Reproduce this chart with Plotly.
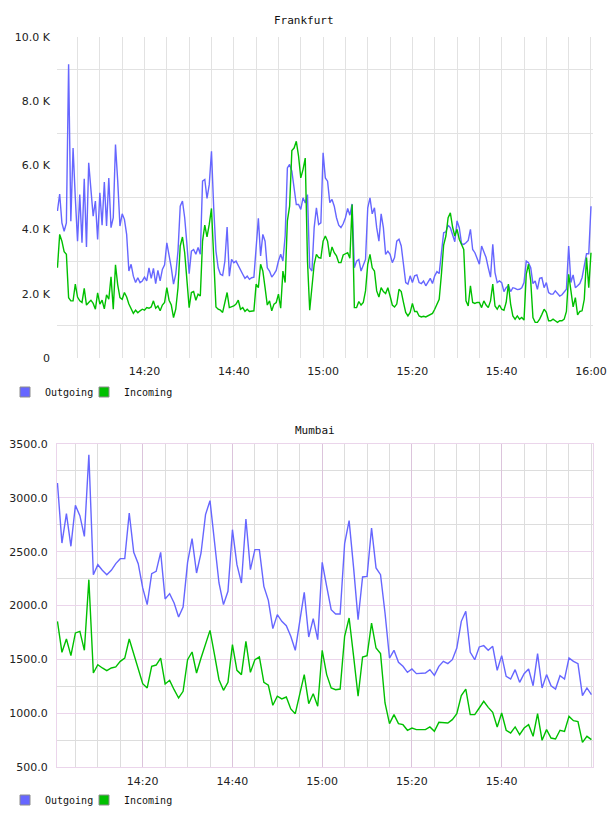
import pandas as pd
import plotly.graph_objects as go

# ---------------- data ----------------
# Frankfurt: samples every 30 s starting 14:00:30
fra_start = "2013-05-14 14:00:30"
fra_outgoing = [
    4580, 5110, 4210, 3950, 4210, 9150, 4260, 6540, 4990, 3640,
    5090, 3590, 5580, 3460, 6080, 5200, 4420, 4890, 3690, 5150,
    4140, 5480, 4110, 5610, 4060, 4370, 6650, 5510, 4110, 4490,
    4320, 3850, 2710, 2920, 2550, 2350, 2500, 2350, 2400, 2520,
    2400, 2810, 2480, 2790, 2320, 2730, 2400, 2760, 2900, 3590,
    3250, 2810, 2300, 2610, 3330, 4730, 4890, 4370, 3540, 2630,
    3330, 3380, 3230, 3440, 3230, 5510, 5560, 4970, 5400, 6440,
    4680, 3330, 2810, 2610, 2570, 3020, 4080, 2550, 3070, 2970,
    3020, 2870, 2710, 2610, 2480, 2550, 2450, 2500, 2520, 3330,
    4350, 3180, 3850, 3640, 2810, 2710, 2520, 2610, 2730, 3020,
    3230, 3020, 3800, 5920, 6030, 5820, 5300, 4780, 4780, 4630,
    4990, 4830, 5090, 2810, 2710, 4060, 4680, 4160, 4210, 6390,
    5610, 5510, 4840, 4940, 4730, 4370, 4140, 4060, 4180, 4370,
    4660, 4450, 4800, 2810, 3020, 3070, 2710, 2920, 3070, 4680,
    4990, 4490, 4680, 4060, 3640, 4490, 4060, 3230, 3330, 3230,
    2970, 3130, 3640, 3700, 3490, 2920, 2350, 2300, 2560, 2350,
    2560, 2590, 2350, 2320, 2400, 2250, 2380, 2480, 2320, 2560,
    2690, 2630, 3280, 3900, 3930, 4140, 4060, 3800, 3620, 4270,
    4060, 3560, 3540, 3590, 3660, 4010, 3380, 3280, 3110, 2920,
    3490, 3330, 3130, 2810, 2520, 3540, 2660, 2350, 2400, 2350,
    2070, 2190, 2250, 2070, 2190, 2170, 2130, 2140, 2190, 2350,
    3020, 2970, 2810, 2320, 2400, 2140, 2480, 2500, 2190, 2350,
    2040, 1990, 1990, 2090, 2010, 1930, 1970, 2040, 2140, 3490,
    2350, 2590, 2190, 2250, 2320, 2500, 2940, 3250, 3250, 4730,
]
fra_incoming = [
    2810, 3850, 3640, 3310, 3230, 1880, 1780, 1780, 2300, 1900,
    1780, 1730, 2170, 1650, 1730, 1800, 1700, 1520, 2030, 1680,
    1800, 1530, 1970, 1830, 2530, 1520, 2900, 2280, 1880, 1830,
    2040, 1900, 1680, 1550, 1390, 1490, 1410, 1470, 1520, 1490,
    1570, 1550, 1590, 1780, 1550, 1620, 1470, 1650, 1730, 2190,
    1800, 1650, 1260, 1520, 2190, 3490, 3770, 3280, 2300, 1570,
    2040, 2070, 1800, 1990, 1930, 3640, 4140, 3770, 4160, 4660,
    3130, 1590, 1520, 1490, 1420, 1780, 2040, 1570, 1590, 1620,
    1680, 1800, 1520, 1570, 1450, 1520, 1450, 1470, 1470, 2300,
    2190, 2920, 2710, 2190, 1650, 1780, 1470, 1680, 1730, 1990,
    1550, 2710, 2350, 4270, 4730, 6460, 6540, 6750, 6290, 5610,
    5870, 6230, 3020, 1490, 2190, 2920, 3230, 3130, 3110, 3640,
    3800, 3640, 3150, 3460, 3280, 3180, 2970, 2970, 3210, 3250,
    3280, 3110, 4780, 1570, 1570, 1760, 1650, 1730, 2090, 2920,
    3230, 2810, 2710, 2090, 1900, 2190, 2070, 2010, 2190, 1930,
    1650, 1590, 1680, 2140, 2070, 1730, 1420, 1310, 1420, 1700,
    1450, 1450, 1310, 1280, 1300, 1280, 1310, 1340, 1390, 1520,
    1700, 1830, 2610, 3520, 3800, 4370, 4520, 4080, 3800, 4010,
    3700, 3560, 3380, 1780, 1620, 2250, 1730, 1700, 1730, 1730,
    1570, 1780, 1650, 1570, 1780, 2300, 1620, 1520, 1650, 1520,
    1490, 1730, 2300, 1680, 1310, 1210, 1310, 1210, 1260, 1180,
    2610, 2920, 2400, 1260, 1110, 1110, 1210, 1360, 1520, 1420,
    1160, 1160, 1210, 1160, 1110, 1160, 1160, 1210, 1450, 2610,
    2140, 1590, 1880, 1340, 1450, 1470, 1830, 3130, 2190, 3280,
]

# Mumbai: samples every minute starting 14:01
mum_start = "2013-05-14 14:01:00"
mum_outgoing = [
    3138, 2580, 2853, 2550, 2930, 2834, 2642, 3400, 2286, 2379,
    2327, 2286, 2327, 2389, 2435, 2435, 2859, 2494, 2389, 2163,
    2008, 2296, 2317, 2494, 2060, 2110, 2023, 1893, 1986, 2401,
    2621, 2302, 2488, 2844, 2974, 2596, 2209, 2008, 2132, 2704,
    2379, 2209, 2803, 2333, 2519, 2519, 2178, 2048, 1785, 1915,
    1853, 1813, 1714, 1584, 1853, 2122, 1707, 1878, 1683, 2401,
    2178, 1961, 1921, 1921, 2574, 2788, 2349, 1868, 2265, 2271,
    2720, 2349, 2286, 1930, 1512, 1584, 1472, 1435, 1379, 1410,
    1367, 1373, 1373, 1404, 1351, 1435, 1481, 1460, 1497, 1605,
    1853, 1946, 1565, 1497, 1615, 1627, 1584, 1621, 1398, 1534,
    1342, 1317, 1404, 1286, 1367, 1410, 1255, 1553, 1234, 1358,
    1255, 1224, 1348, 1317, 1512, 1481, 1460, 1162, 1234, 1172,
]
mum_incoming = [
    1853, 1565, 1689, 1534, 1745, 1760, 1584, 2240, 1373, 1450,
    1420, 1395, 1420, 1429, 1481, 1512, 1689, 1543, 1404, 1274,
    1234, 1435, 1447, 1512, 1271, 1305, 1218, 1141, 1203, 1497,
    1568, 1373, 1512, 1646, 1769, 1543, 1311, 1212, 1286, 1636,
    1398, 1358, 1667, 1379, 1497, 1522, 1286, 1259, 1073, 1157,
    1132, 1150, 1039, 995, 1172, 1358, 1088, 1181, 1064, 1584,
    1358, 1234, 1218, 1224, 1714, 1884, 1528, 1157, 1522, 1534,
    1837, 1605, 1553, 1095, 903, 986, 903, 893, 841, 862,
    847, 847, 847, 872, 831, 915, 915, 909, 940, 995,
    1163, 1224, 986, 986, 1048, 1110, 1054, 1008, 872, 1002,
    841, 816, 872, 800, 862, 893, 785, 995, 748, 847,
    769, 760, 841, 831, 970, 930, 921, 729, 785, 754,
]

fra_y_ticks = [0, 2000, 4000, 6000, 8000, 10000]
fra_y_labels = ["0", "2.0 K", "4.0 K", "6.0 K", "8.0 K", "10.0 K"]
mum_y_ticks = [500, 1000, 1500, 2000, 2500, 3000, 3500]
mum_y_labels = ["500.0", "1000.0", "1500.0", "2000.0", "2500.0", "3000.0", "3500.0"]
day = "2013-05-14 "
x_tick_labels = ["14:20", "14:40", "15:00", "15:20", "15:40", "16:00"]

# ---------------- styling ----------------
W, H = 608, 816
ML, MR = 57, 15
PW = W - ML - MR
BLUE = "#6666ff"
GREEN = "#00c000"
GRID = "#e2e2e2"
PINK_Y = "#ebd5eb"
PINK_X = "#dcc4dc"
MINOR = "#dddddd"
TICKFONT = dict(family="DejaVu Sans", size=11, color="#222222")
MONO = "DejaVu Sans Mono"


def py(p):
    return (H - p) / H


def px(p):
    return (p - ML) / PW


fra_t = pd.date_range(fra_start, periods=len(fra_outgoing), freq="30s")
mum_t = pd.date_range(mum_start, periods=len(mum_outgoing), freq="60s")

fig = go.Figure()

series = [
    (fra_t, fra_outgoing, "Outgoing", BLUE, "x", "y", "legend"),
    (fra_t, fra_incoming, "Incoming", GREEN, "x", "y", "legend2"),
    (mum_t, mum_outgoing, "Outgoing", BLUE, "x2", "y2", "legend3"),
    (mum_t, mum_incoming, "Incoming", GREEN, "x2", "y2", "legend4"),
]
for t, vals, name, col, xa, ya, lg in series:
    fig.add_trace(go.Scatter(
        x=t, y=vals, mode="lines", name=name,
        line=dict(color=col, width=1.4),
        xaxis=xa, yaxis=ya, showlegend=False, legendgroup=lg,
    ))
    fig.add_trace(go.Scatter(
        x=[None], y=[None], mode="markers", name=name,
        marker=dict(symbol="square", size=10, color=col,
                    line=dict(color="#8c8c8c", width=1)),
        xaxis=xa, yaxis=ya, legend=lg, legendgroup=lg,
    ))


def legend_at(left_px, center_px):
    return dict(
        orientation="h", x=px(left_px), xanchor="left",
        y=py(center_px), yanchor="middle",
        font=dict(family=MONO, size=10, color="#111111"),
        bgcolor="rgba(0,0,0,0)", borderwidth=0,
    )


fig.update_layout(
    width=W, height=H,
    margin=dict(l=ML, r=MR, t=0, b=0),
    paper_bgcolor="white", plot_bgcolor="white",
    font=dict(family="DejaVu Sans", size=10, color="#222222"),
    xaxis=dict(
        domain=[0, 1], anchor="y", type="date",
        range=[day + "14:00:24", day + "16:00:27"],
        tickvals=[day + s for s in x_tick_labels], ticktext=x_tick_labels,
        showgrid=True, gridcolor=GRID, gridwidth=1,
        minor=dict(dtick=300000, tick0=day + "14:00", showgrid=True,
                   gridcolor=GRID, gridwidth=1),
        showline=False, zeroline=False, ticks="", tickfont=TICKFONT,
        ticklabelstandoff=5, automargin=False,
    ),
    yaxis=dict(
        domain=[py(358), py(37)], anchor="x",
        range=[0, 10000], tickvals=fra_y_ticks, ticktext=fra_y_labels,
        showgrid=False,
        minor=dict(tickmode="array", tickvals=[1000, 3000, 5000, 7000, 9000],
                   showgrid=True, gridcolor=GRID, gridwidth=1),
        showline=False, zeroline=False, ticks="", tickfont=TICKFONT,
        ticklabelstandoff=6, automargin=False,
    ),
    xaxis2=dict(
        domain=[0, 1], anchor="y2", type="date",
        range=[day + "14:00:54", day + "16:00:21"],
        tickvals=[day + s for s in x_tick_labels[:-1]], ticktext=x_tick_labels[:-1],
        showgrid=True, gridcolor=PINK_X, gridwidth=1,
        minor=dict(dtick=300000, tick0=day + "14:00", showgrid=True,
                   gridcolor=MINOR, gridwidth=1),
        showline=True, linecolor=PINK_Y, linewidth=1, mirror=True,
        zeroline=False, ticks="", tickfont=TICKFONT,
        ticklabelstandoff=4, automargin=False,
    ),
    yaxis2=dict(
        domain=[py(767), py(444)], anchor="x2",
        range=[500, 3500], tickvals=mum_y_ticks, ticktext=mum_y_labels,
        showgrid=True, gridcolor=PINK_Y, gridwidth=1,
        minor=dict(dtick=250, tick0=500, showgrid=True, gridcolor=MINOR, gridwidth=1),
        showline=True, linecolor=PINK_Y, linewidth=1, mirror=True,
        zeroline=False, ticks="", tickfont=TICKFONT,
        ticklabelstandoff=6, automargin=False,
    ),
    legend=legend_at(5, 392),
    legend2=legend_at(84, 392),
    legend3=legend_at(5, 800),
    legend4=legend_at(84, 800),
    annotations=[
        dict(text="Frankfurt", x=px(304), y=py(20), xref="paper", yref="paper",
             showarrow=False, xanchor="center", yanchor="middle",
             font=dict(family=MONO, size=11, color="#111111")),
        dict(text="Mumbai", x=px(315), y=py(430), xref="paper", yref="paper",
             showarrow=False, xanchor="center", yanchor="middle",
             font=dict(family=MONO, size=11, color="#111111")),
    ],
)

fig.write_html("out.html")
